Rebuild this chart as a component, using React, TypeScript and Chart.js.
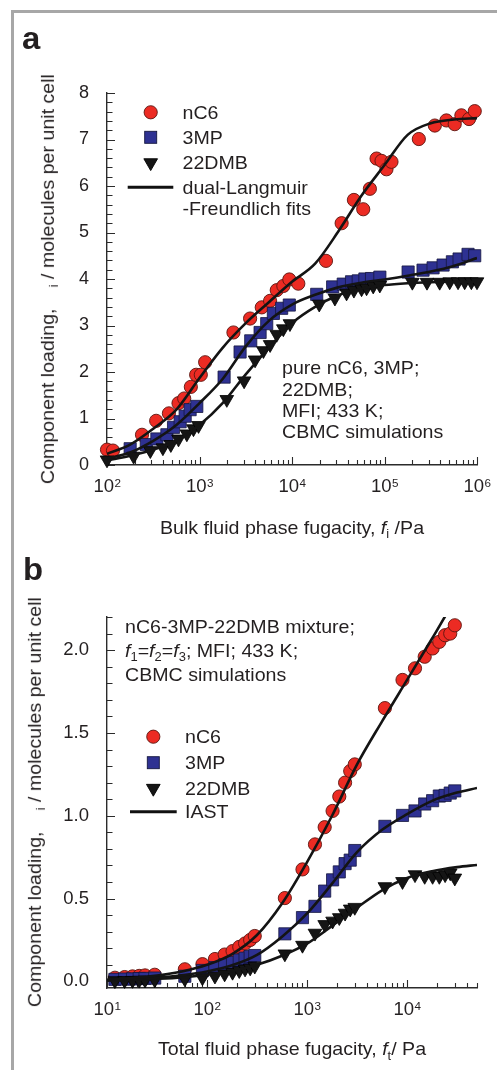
import React, { useEffect, useRef } from 'react';
import { Chart, registerables } from 'chart.js';

Chart.register(...registerables);

const FONT = '"Liberation Sans", Arial, Helvetica, sans-serif';
const TEXT = '#231f20';
const AXIS = '#2b2b2b';
const RED = '#ec2b23';
const RED_EDGE = '#5b1510';
const BLUE = '#2e3192';
const BLUE_EDGE = '#15173f';
const BLACK = '#151515';
const STRETCH = 1.06;

// ---------------- Panel a: pure components ----------------
const aNC6Fug = [100, 116, 239, 340, 467, 593, 683, 806, 920, 1033, 1151, 2327, 3524, 4710, 5795, 6842, 8060, 9355, 11700, 23300, 34400, 46700, 58900, 69500, 82100, 92900, 105000, 119000, 235000, 350000, 467000, 574000, 678000, 820000, 945000];
const aNC6Load = [0.33, 0.31, 0.65, 0.95, 1.11, 1.33, 1.43, 1.68, 1.94, 1.94, 2.21, 2.85, 3.15, 3.39, 3.53, 3.76, 3.85, 3.99, 3.9, 4.39, 5.2, 5.7, 5.5, 5.94, 6.59, 6.54, 6.36, 6.52, 7.01, 7.3, 7.41, 7.33, 7.52, 7.44, 7.61];
const a3MPFug = [178, 266, 346, 444, 524, 618, 700, 792, 935, 1845, 2746, 3580, 4520, 5330, 6290, 7730, 9350, 18500, 27500, 35800, 44000, 52000, 61400, 72400, 89100, 180000, 261000, 335000, 430000, 542000, 640000, 800000, 945000];
const a3MPLoad = [0.35, 0.44, 0.56, 0.65, 0.81, 0.93, 1.05, 1.19, 1.26, 1.89, 2.43, 2.67, 2.85, 3.04, 3.26, 3.37, 3.44, 3.67, 3.83, 3.89, 3.94, 3.96, 4.0, 4.01, 4.04, 4.15, 4.19, 4.24, 4.3, 4.37, 4.43, 4.53, 4.5];
const a22DMBFug = [100, 194, 294, 402, 490, 593, 730, 861, 976, 1973, 3036, 3990, 4910, 5800, 6840, 8060, 9500, 19700, 29100, 38900, 46700, 56500, 64000, 75500, 89000, 200000, 288000, 395000, 507000, 624000, 736000, 869000, 1000000];
const a22DMBLoad = [0.11, 0.19, 0.31, 0.37, 0.44, 0.56, 0.67, 0.78, 0.85, 1.41, 1.81, 2.26, 2.46, 2.59, 2.81, 2.93, 3.04, 3.46, 3.59, 3.7, 3.76, 3.79, 3.81, 3.85, 3.87, 3.93, 3.93, 3.93, 3.94, 3.94, 3.94, 3.94, 3.94];
// dual-Langmuir-Freundlich fit curves
const aFitFug = [100, 178, 316, 562, 1000, 1778, 3162, 5623, 10000, 17783, 31623, 56234, 100000, 177828, 316228, 562341, 1000000];
const aNC6Fit = [0.24, 0.44, 0.78, 1.19, 1.87, 2.52, 3.05, 3.5, 3.94, 4.33, 5.02, 5.79, 6.45, 7.1, 7.35, 7.43, 7.46];
const a3MPFit = [0.14, 0.27, 0.52, 0.86, 1.33, 1.85, 2.55, 3.1, 3.45, 3.66, 3.82, 3.92, 3.99, 4.07, 4.16, 4.28, 4.45];
const a22DMBFit = [0.1, 0.2, 0.33, 0.52, 0.86, 1.33, 1.95, 2.52, 3.05, 3.4, 3.65, 3.79, 3.87, 3.91, 3.93, 3.94, 3.94];
const aXLabels = [[100, '2'], [1000, '3'], [10000, '4'], [100000, '5'], [1000000, '6']] as [number, string][];
const aYTicks = [0, 1, 2, 3, 4, 5, 6, 7, 8];

// ---------------- Panel b: ternary mixture ----------------
const bFug = [12, 15, 18, 21, 24, 30, 60, 90, 120, 150, 180, 210, 240, 270, 300, 600, 900, 1200, 1500, 1800, 2100, 2400, 2700, 3000, 6000, 9000, 12000, 15000, 18000, 21000, 24000, 27000, 30000];
const bNC6Load = [0.022, 0.026, 0.03, 0.033, 0.036, 0.04, 0.073, 0.104, 0.135, 0.162, 0.183, 0.208, 0.229, 0.25, 0.274, 0.503, 0.676, 0.827, 0.931, 1.029, 1.116, 1.2, 1.27, 1.31, 1.65, 1.82, 1.89, 1.96, 2.01, 2.05, 2.09, 2.1, 2.15];
const b3MPLoad = [0.012, 0.014, 0.015, 0.017, 0.018, 0.02, 0.031, 0.066, 0.083, 0.1, 0.114, 0.129, 0.14, 0.15, 0.156, 0.287, 0.385, 0.453, 0.545, 0.613, 0.661, 0.711, 0.732, 0.79, 0.936, 1.002, 1.029, 1.071, 1.091, 1.119, 1.123, 1.137, 1.15];
const b22DMBLoad = [0.004, 0.005, 0.006, 0.007, 0.008, 0.009, 0.015, 0.022, 0.032, 0.045, 0.055, 0.065, 0.075, 0.081, 0.092, 0.166, 0.218, 0.291, 0.343, 0.364, 0.385, 0.412, 0.437, 0.447, 0.572, 0.603, 0.644, 0.634, 0.634, 0.634, 0.644, 0.655, 0.624];
// IAST predictions
const bFitFug = [10, 17.8, 31.6, 56.2, 100, 178, 316, 562, 1000, 1778, 3162, 5623, 10000, 17783, 31623, 50000];
const bNC6Fit = [0.01, 0.02, 0.035, 0.06, 0.1, 0.165, 0.28, 0.47, 0.72, 1.0, 1.31, 1.57, 1.82, 2.07, 2.32, 2.47];
const b3MPFit = [0.008, 0.013, 0.022, 0.037, 0.06, 0.097, 0.16, 0.27, 0.41, 0.59, 0.78, 0.915, 1.01, 1.09, 1.14, 1.168];
const b22DMBFit = [0.005, 0.009, 0.015, 0.024, 0.04, 0.062, 0.1, 0.155, 0.228, 0.335, 0.445, 0.55, 0.624, 0.665, 0.69, 0.703];
const bXLabels = [[10, '1'], [100, '2'], [1000, '3'], [10000, '4']] as [number, string][];
const bYTicks = [0, 0.5, 1.0, 1.5, 2.0];

// ---------------- helpers ----------------
type Pt = { x: number; y: number };
const pts = (xs: number[], ys: number[]): Pt[] => xs.map((x, i) => ({ x, y: ys[i] }));
const logMinor = (lo: number, hi: number) => {
  const out: number[] = [];
  for (let d = lo; d < hi; d *= 10) for (let m = 2; m <= 9; m++) if (d * m <= hi * 1.0001) out.push(d * m);
  return out;
};
const linMinor = (step: number, n: number, every: number) => {
  const out: number[] = [];
  for (let i = 1; i <= n; i++) if (i % every !== 0) out.push(+(i * step).toFixed(3));
  return out;
};

const inwardTicks = {
  id: 'inwardTicks',
  beforeDatasetsDraw(chart: any, _a: any, o: any) {
    const { ctx, chartArea: ca, scales } = chart;
    const xs = scales.x;
    const ys = scales.y;
    ctx.save();
    ctx.strokeStyle = AXIS;
    ctx.lineWidth = 1.1;
    ctx.beginPath();
    const xt = (vals: number[], len: number) =>
      vals.forEach((v) => {
        const p = Math.round(xs.getPixelForValue(v)) + 0.5;
        ctx.moveTo(p, ca.bottom);
        ctx.lineTo(p, ca.bottom - len);
      });
    const yt = (vals: number[], len: number) =>
      vals.forEach((v) => {
        const p = Math.round(ys.getPixelForValue(v)) + 0.5;
        ctx.moveTo(ca.left, p);
        ctx.lineTo(ca.left + len, p);
      });
    xt(o.xMajor, 8);
    xt(o.xMinor, 5);
    yt(o.yMajor, 8);
    yt(o.yMinor, 5.5);
    ctx.stroke();
    ctx.restore();
  },
  afterDraw(chart: any, _a: any, o: any) {
    const { ctx, chartArea: ca, scales } = chart;
    const xs = scales.x;
    ctx.save();
    ctx.fillStyle = TEXT;
    ctx.textBaseline = 'alphabetic';
    ctx.textAlign = 'left';
    const base = ca.bottom + o.labelOffset;
    (o.xLabels as [number, string][]).forEach(([v, e]) => {
      const px = xs.getPixelForValue(v);
      ctx.font = `17.5px ${FONT}`;
      const w1 = ctx.measureText('10').width * STRETCH;
      ctx.font = `11px ${FONT}`;
      const w2 = ctx.measureText(e).width * STRETCH;
      const x0 = px - (w1 + w2) / 2;
      ctx.save();
      ctx.translate(x0, base);
      ctx.scale(STRETCH, 1);
      ctx.font = `17.5px ${FONT}`;
      ctx.fillText('10', 0, 0);
      ctx.font = `11px ${FONT}`;
      ctx.fillText(e, w1 / STRETCH + 0.3, -5);
      ctx.restore();
    });
    ctx.restore();
  },
};

const insetLegend = {
  id: 'insetLegend',
  afterDraw(chart: any, _a: any, o: any) {
    const { ctx } = chart;
    const fs = o.size;
    ctx.save();
    ctx.textBaseline = 'alphabetic';
    ctx.textAlign = 'left';
    ctx.font = `${fs}px ${FONT}`;
    (o.items as any[]).forEach((it) => {
      const mx = o.markerX;
      const cy = it.y;
      ctx.lineWidth = 0.9;
      if (it.kind === 'circle') {
        ctx.beginPath();
        ctx.arc(mx, cy, 6.6, 0, Math.PI * 2);
        ctx.fillStyle = RED;
        ctx.strokeStyle = RED_EDGE;
        ctx.fill();
        ctx.stroke();
      } else if (it.kind === 'rect') {
        ctx.fillStyle = BLUE;
        ctx.strokeStyle = BLUE_EDGE;
        ctx.fillRect(mx - 6, cy - 6, 12, 12);
        ctx.strokeRect(mx - 6, cy - 6, 12, 12);
      } else if (it.kind === 'triangle') {
        const r = 7.9;
        ctx.beginPath();
        ctx.moveTo(mx, cy + r);
        ctx.lineTo(mx - r * 0.866, cy - r / 2);
        ctx.lineTo(mx + r * 0.866, cy - r / 2);
        ctx.closePath();
        ctx.fillStyle = BLACK;
        ctx.strokeStyle = '#000';
        ctx.fill();
        ctx.stroke();
      } else {
        ctx.beginPath();
        ctx.moveTo(o.lineX1, cy);
        ctx.lineTo(o.lineX2, cy);
        ctx.strokeStyle = '#111';
        ctx.lineWidth = 3;
        ctx.stroke();
      }
      ctx.fillStyle = TEXT;
      (it.lines as string[]).forEach((t, k) => {
        ctx.save();
        ctx.translate(o.textX, cy + 0.358 * fs + k * o.lineStep);
        ctx.scale(STRETCH, 1);
        ctx.fillText(t, 0, 0);
        ctx.restore();
      });
    });
    ctx.restore();
  },
};

function datasets(nc6: Pt[], mp: Pt[], dmb: Pt[], fits: Pt[][]) {
  const fitSets = fits.map((d) => ({
    data: d,
    showLine: true,
    pointRadius: 0,
    borderColor: '#141414',
    borderWidth: 2.6,
    cubicInterpolationMode: 'monotone',
    fill: false,
    order: 0,
  }));
  return [
    ...fitSets,
    { label: '22DMB', data: dmb, showLine: false, pointStyle: 'triangle', rotation: 180, pointRadius: 7.9, pointBackgroundColor: BLACK, pointBorderColor: '#000', pointBorderWidth: 0.8, order: 1, clip: false },
    { label: '3MP', data: mp, showLine: false, pointStyle: 'rect', pointRadius: 8.6, pointBackgroundColor: BLUE, pointBorderColor: BLUE_EDGE, pointBorderWidth: 0.8, order: 2, clip: false },
    { label: 'nC6', data: nc6, showLine: false, pointStyle: 'circle', pointRadius: 6.6, pointBackgroundColor: RED, pointBorderColor: RED_EDGE, pointBorderWidth: 0.9, order: 3, clip: false },
  ];
}

function baseOptions(p: {
  xMin: number; xMax: number; yMin: number; yMax: number; yTicks: number[]; yFmt: (v: number) => string; ySize: number;
  padTop: number; xHeight: number; tickOpts: any; legendOpts: any;
}) {
  return {
    animation: false,
    responsive: false,
    devicePixelRatio: 1,
    events: [],
    layout: { padding: { top: p.padTop, left: 0, right: 20, bottom: 0 } },
    plugins: {
      legend: { display: false },
      tooltip: { enabled: false },
      inwardTicks: p.tickOpts,
      insetLegend: p.legendOpts,
    },
    scales: {
      x: {
        type: 'logarithmic',
        min: p.xMin,
        max: p.xMax,
        grid: { display: false },
        border: { display: true, color: AXIS, width: 1.4 },
        ticks: { display: false },
        afterFit: (s: any) => { s.height = p.xHeight; },
      },
      y: {
        type: 'linear',
        min: p.yMin,
        max: p.yMax,
        grid: { display: false },
        border: { display: true, color: AXIS, width: 1.4 },
        ticks: {
          padding: 10,
          color: TEXT,
          font: { family: FONT, size: p.ySize },
          callback: (v: any) => p.yFmt(Number(v)),
        },
        afterBuildTicks: (s: any) => { s.ticks = p.yTicks.map((v) => ({ value: v })); },
        afterFit: (s: any) => { s.width = 107; },
      },
    },
  };
}

const FS = 18.5;

function Txt(props: { x: number; base: number; size?: number; bold?: boolean; center?: boolean; children: any }) {
  const size = props.size ?? FS;
  const lh = 1.2 * size;
  const top = props.base - 0.9465 * size;
  const style: any = {
    position: 'absolute',
    top,
    left: props.center ? props.x - 300 : props.x,
    width: props.center ? 600 : undefined,
    textAlign: props.center ? 'center' : 'left',
    fontFamily: FONT,
    fontSize: size,
    fontWeight: props.bold ? 'bold' : 'normal',
    lineHeight: `${lh}px`,
    whiteSpace: 'nowrap',
    color: TEXT,
    transform: `scaleX(${STRETCH})`,
    transformOrigin: props.center ? '50% 50%' : '0 50%',
  };
  return <div style={style}>{props.children}</div>;
}

function VTxt(props: { cx: number; cy: number; children: any }) {
  const W = 600;
  const H = 1.2 * FS;
  const style: any = {
    position: 'absolute',
    left: props.cx - W / 2,
    top: props.cy - H / 2,
    width: W,
    height: H,
    lineHeight: `${H}px`,
    textAlign: 'center',
    fontFamily: FONT,
    fontSize: FS,
    color: TEXT,
    whiteSpace: 'nowrap',
    transform: `rotate(-90deg) scaleX(${STRETCH})`,
    transformOrigin: '50% 50%',
  };
  return <div style={style}>{props.children}</div>;
}

const Sub = (p: { children: any }) => (
  <span style={{ fontSize: '0.66em', position: 'relative', top: '0.36em', lineHeight: 0 }}>{p.children}</span>
);

export default function App() {
  const refA = useRef<HTMLCanvasElement>(null);
  const refB = useRef<HTMLCanvasElement>(null);

  useEffect(() => {
    const chartA = new Chart(refA.current as HTMLCanvasElement, {
      type: 'scatter',
      data: {
        datasets: datasets(
          pts(aNC6Fug, aNC6Load),
          pts(a3MPFug, a3MPLoad),
          pts(a22DMBFug, a22DMBLoad),
          [pts(aFitFug, aNC6Fit), pts(aFitFug, a3MPFit), pts(aFitFug, a22DMBFit)],
        ) as any,
      },
      options: baseOptions({
        xMin: 100, xMax: 1e6, yMin: 0, yMax: 8, yTicks: aYTicks, yFmt: (v) => String(v), ySize: 18,
        padTop: 93, xHeight: 80,
        tickOpts: {
          xMajor: aXLabels.map((l) => l[0]),
          xMinor: logMinor(100, 1e6),
          yMajor: aYTicks,
          yMinor: linMinor(0.2, 40, 5),
          xLabels: aXLabels,
          labelOffset: 27,
        },
        legendOpts: {
          size: FS, markerX: 150.7, textX: 182.5, lineX1: 127.7, lineX2: 173.3, lineStep: 21,
          items: [
            { kind: 'circle', y: 112.3, lines: ['nC6'] },
            { kind: 'rect', y: 137.3, lines: ['3MP'] },
            { kind: 'triangle', y: 162.7, lines: ['22DMB'] },
            { kind: 'line', y: 187.3, lines: ['dual-Langmuir', '-Freundlich fits'] },
          ],
        },
      }) as any,
      plugins: [inwardTicks, insetLegend],
    });

    const chartB = new Chart(refB.current as HTMLCanvasElement, {
      type: 'scatter',
      data: {
        datasets: datasets(
          pts(bFug, bNC6Load),
          pts(bFug, b3MPLoad),
          pts(bFug, b22DMBLoad),
          [pts(bFitFug, bNC6Fit), pts(bFitFug, b3MPFit), pts(bFitFug, b22DMBFit)],
        ) as any,
      },
      options: baseOptions({
        xMin: 10, xMax: 50000, yMin: -0.04, yMax: 2.2, yTicks: bYTicks, yFmt: (v) => v.toFixed(1), ySize: 18.5,
        padTop: 87, xHeight: 82,
        tickOpts: {
          xMajor: bXLabels.map((l) => l[0]),
          xMinor: logMinor(10, 50000),
          yMajor: bYTicks,
          yMinor: linMinor(0.1, 22, 5),
          xLabels: bXLabels,
          labelOffset: 27,
        },
        legendOpts: {
          size: FS, markerX: 153.3, textX: 185, lineX1: 130, lineX2: 176.7, lineStep: 21,
          items: [
            { kind: 'circle', y: 206.7, lines: ['nC6'] },
            { kind: 'rect', y: 232.7, lines: ['3MP'] },
            { kind: 'triangle', y: 258.3, lines: ['22DMB'] },
            { kind: 'line', y: 281.7, lines: ['IAST'] },
          ],
        },
      }) as any,
      plugins: [inwardTicks, insetLegend],
    });

    return () => {
      chartA.destroy();
      chartB.destroy();
    };
  }, []);

  return (
    <div style={{ position: 'fixed', left: 0, top: 0, width: 497, height: 1070, background: '#fff', overflow: 'hidden' }}>
      <div style={{ position: 'absolute', left: 11, top: 10, width: 486, height: 1060, borderTop: '3px solid #a7a7a7', borderLeft: '3px solid #a7a7a7', boxSizing: 'border-box' }} />
      <canvas ref={refA} width={497} height={545} style={{ position: 'absolute', left: 0, top: 0 }} />
      <canvas ref={refB} width={497} height={540} style={{ position: 'absolute', left: 0, top: 530 }} />

      <Txt x={22} base={49} size={31} bold>a</Txt>
      <Txt x={23} base={580} size={31} bold>b</Txt>

      <Txt x={282} base={374.6}>pure nC6, 3MP;</Txt>
      <Txt x={282} base={396.1}>22DMB;</Txt>
      <Txt x={282} base={417.6}>MFI; 433 K;</Txt>
      <Txt x={282} base={438.6}>CBMC simulations</Txt>

      <Txt x={124.5} base={633.3}>nC6-3MP-22DMB mixture;</Txt>
      <Txt x={124.5} base={657.6}><i>f</i><Sub>1</Sub>=<i>f</i><Sub>2</Sub>=<i>f</i><Sub>3</Sub>; MFI; 433 K;</Txt>
      <Txt x={124.5} base={681.6}>CBMC simulations</Txt>

      <Txt x={292} base={534.6} center>Bulk fluid phase fugacity, <i>f</i><Sub>i</Sub> /Pa</Txt>
      <Txt x={292} base={1056} center>Total fluid phase fugacity, <i>f</i><Sub>t</Sub>/ Pa</Txt>

      <VTxt cx={48} cy={279}>Component loading,<span style={{ display: 'inline-block', width: 20 }} /><Sub>i</Sub> / molecules per unit cell</VTxt>
      <VTxt cx={35} cy={802}>Component loading,<span style={{ display: 'inline-block', width: 20 }} /><Sub>i</Sub> / molecules per unit cell</VTxt>
    </div>
  );
}
